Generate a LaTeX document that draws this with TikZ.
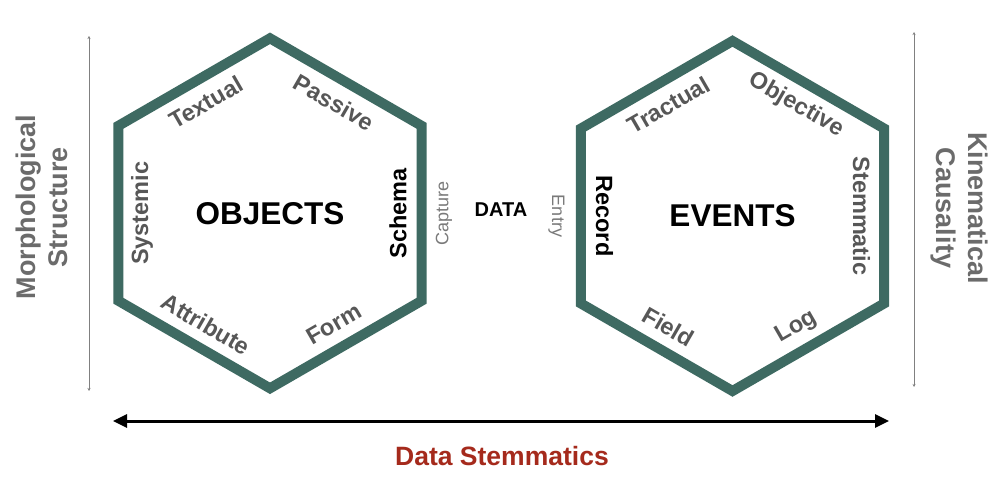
\documentclass[tikz,border=0pt]{standalone}
\usepackage{fontspec}
\setmainfont{Liberation Sans}
\usetikzlibrary{arrows.meta,calc}
\definecolor{hexteal}{HTML}{3E6A62}
\definecolor{lblgray}{HTML}{575757}
\definecolor{sidegray}{HTML}{6B6B6B}
\definecolor{flowgray}{HTML}{7A7A7A}
\definecolor{stemred}{HTML}{A52A1C}
\tikzset{
  hexline/.style={draw=hexteal, line width=10pt, line join=miter},
  edgelbl/.style={font=\fontsize{23.5}{28}\selectfont\bfseries, text=lblgray, inner sep=0pt},
  keylbl/.style={edgelbl, text=black},
  hextitle/.style={font=\fontsize{31.5}{36}\selectfont\bfseries, inner sep=0pt},
  sidetitle/.style={font=\fontsize{27}{32.4}\selectfont\bfseries, text=sidegray, align=center, inner sep=0pt},
  flowlbl/.style={font=\fontsize{18}{22}\selectfont, text=flowgray, inner sep=0pt},
  axisline/.style={draw=gray, line width=0.8pt, {Stealth[length=3pt,width=3pt]}-{Stealth[length=3pt,width=3pt]}},
  mainarrow/.style={line width=3pt, {Triangle[length=14pt,width=13pt]}-{Triangle[length=14pt,width=13pt]}},
}
\begin{document}
\begin{tikzpicture}[x=1pt,y=1pt]
\fill[white] (0,0) rectangle (1000,482);
\useasboundingbox (0,0) rectangle (1000,482);

% hexagon centres
\coordinate (L) at (270,268.7);
\coordinate (R) at (732.5,266);

% hexagons
\draw[hexline] ($(L)+(90:175)$) -- ($(L)+(150:175)$) -- ($(L)+(210:175)$) -- ($(L)+(270:175)$) -- ($(L)+(330:175)$) -- ($(L)+(30:175)$) -- cycle;
\draw[hexline] ($(R)+(90:175)$) -- ($(R)+(150:175)$) -- ($(R)+(210:175)$) -- ($(R)+(270:175)$) -- ($(R)+(330:175)$) -- ($(R)+(30:175)$) -- cycle;

% titles
\node[hextitle] (objects) at (L) {OBJECTS};
\node[hextitle] (events) at (R) {EVENTS};
\node[font=\fontsize{20}{24}\selectfont\bfseries, inner sep=0pt] (data) at (501,272) {DATA};
\node[flowlbl, rotate=90] (capture) at (444,268.5) {Capture};
\node[flowlbl, rotate=-90] (entry) at (556.5,266) {Entry};

% left hexagon labels
\node[edgelbl, rotate=30] (textual) at ($(L)+(120:128)$) {Textual};
\node[edgelbl, rotate=-30] (passive) at ($(L)+(60:128)$) {Passive};
\node[keylbl, rotate=90] (schema) at ($(L)+(0:128)$) {Schema};
\node[edgelbl, rotate=30] (form) at ($(L)+(300:128)$) {Form};
\node[edgelbl, rotate=-30] (attribute) at ($(L)+(240:128)$) {Attribute};
\node[edgelbl, rotate=90] (systemic) at ($(L)+(180:128)$) {Systemic};

% right hexagon labels
\node[edgelbl, rotate=30] (tractual) at ($(R)+(120:128)$) {Tractual};
\node[edgelbl, rotate=-30] (objective) at ($(R)+(60:128)$) {Objective};
\node[edgelbl, rotate=-90] (stemmatic) at ($(R)+(0:129)$) {Stemmatic};
\node[edgelbl, rotate=30] (log) at ($(R)+(300:128)$) {Log};
\node[edgelbl, rotate=-30] (field) at ($(R)+(240:128)$) {Field};
\node[keylbl, rotate=-90] (record) at ($(R)+(180:128)$) {Record};

% side titles
\node[sidetitle, rotate=90] (morph) at (42,275) {Morphological\\Structure};
\node[sidetitle, rotate=-90] (kine) at (959.5,274) {Kinematical\\Causality};

% axes
\coordinate (la) at (89,446);
\coordinate (lb) at (89,91);
\coordinate (ra) at (914,450);
\coordinate (rb) at (914,95);
\draw[axisline] (la) -- (lb);
\draw[axisline] (ra) -- (rb);

\coordinate (ha) at (113,61);
\coordinate (hb) at (889,61);
\draw[mainarrow] (ha) -- (hb);

\node[font=\fontsize{26.5}{30}\selectfont\bfseries, text=stemred, inner sep=0pt, anchor=base] (stem) at (502,17) {Data Stemmatics};
\end{tikzpicture}
\end{document}
